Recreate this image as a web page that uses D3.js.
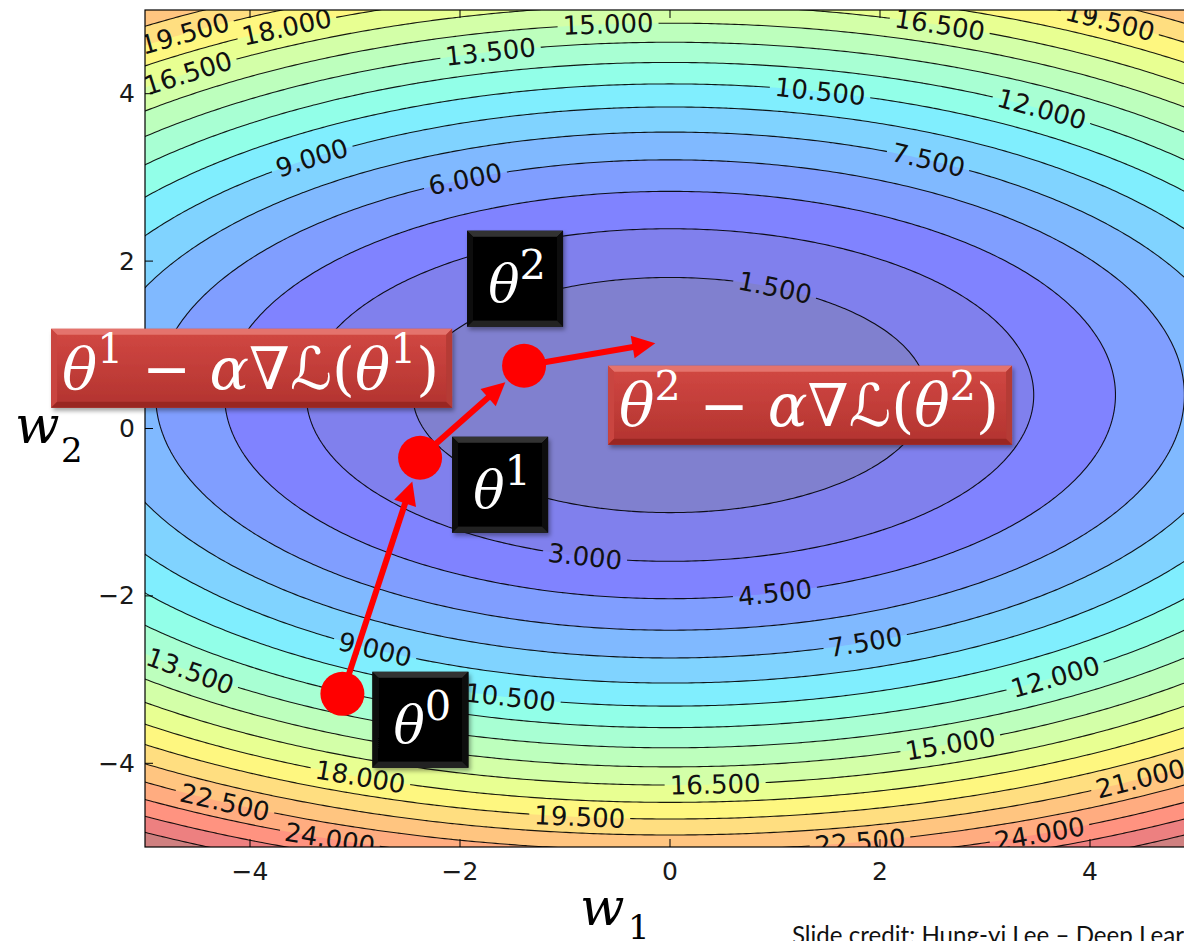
<!DOCTYPE html>
<html><head><meta charset="utf-8">
<script src="https://cdn.jsdelivr.net/npm/d3@7"></script>
<style>body{margin:0;background:#fff;overflow:hidden} svg{display:block}</style>
</head><body>
<svg id="chart" width="1184" height="941"></svg>
<script>
// ================= DATA =================
const xTicks = [-4, -2, 0, 2, 4];
const xTickLabels = ["\u22124", "\u22122", "0", "2", "4"];
const yTicks = [-4, -2, 0, 2, 4];
const yTickLabels = ["\u22124", "\u22122", "0", "2", "4"];
// loss surface  L(w1,w2) = lossA*w1^2 + lossB*(w2 - lossC)^2 
const lossA = 0.25, lossB = 0.76, lossC = 0.4;
// filled-contour levels and contour-line levels
const fillLevels = [0, 1.5, 3, 4.5, 6, 7.5, 9, 10.5, 12, 13.5, 15, 16.5, 18, 19.5, 21, 22.5, 24, 25.5, 27, 28.5];
const lineLevels = [1.5, 3, 4.5, 6, 7.5, 9, 10.5, 12, 13.5, 15, 16.5, 18, 19.5, 21, 22.5, 24, 25.5, 27];
// contour labels: level, w1 position, branch (+1 upper half, -1 lower half)
const labelLevels = [19.5, 18, 16.5, 13.5, 15, 16.5, 19.5, 10.5, 12, 7.5, 9, 6, 1.5,
                     3, 4.5, 7.5, 9, 10.5, 13.5, 12, 15, 16.5, 18, 19.5, 21, 22.5, 24, 22.5, 24];
const labelW1 =     [-4.62, -3.65, -4.59, -1.71, -0.59, 2.57, 4.19, 1.43, 3.54, 2.46, -3.41, -1.95, 1.0,
                     -0.81, 1.0, 1.86, -2.81, -1.52, -4.57, 3.67, 2.67, 0.43, -2.95, -0.86, 4.48, -4.24, -3.24, 1.81, 3.52];
const labelSide =   [1, 1, 1, 1, 1, 1, 1, 1, 1, 1, 1, 1, 1,
                     -1, -1, -1, -1, -1, -1, -1, -1, -1, -1, -1, -1, -1, -1, -1, -1];
// gradient-descent iterates theta^0, theta^1, theta^2 and the next step
const pathW1 = [-3.12, -2.38, -1.39, -0.14];
const pathW2 = [-3.17, -0.35, 0.75, 1.02];
const thetaNames = ["0", "1", "2"];
const stepIndex = ["1", "2"];
// jet colormap stops
const jetStops = [0, 0.35, 0.66, 0.89, 1], jetR = [0, 0, 1, 1, 0.5];
const jetGStops = [0, 0.125, 0.375, 0.64, 0.91, 1], jetG = [0, 0, 1, 1, 0, 0];
const jetBStops = [0, 0.11, 0.34, 0.65, 1], jetB = [0.5, 1, 1, 0, 0];
const creditText = "Slide credit: Hung-yi Lee \u2013 Deep Learning";

// ================= LAYOUT =================
const W = 1184, H = 941;
const svg = d3.select('#chart');
const x = d3.scaleLinear().domain([-5, 5]).range([145, 1195]);
const y = d3.scaleLinear().domain([-5, 5]).range([847, 10]);
const kx = (x(1) - x(0)), ky = (y(0) - y(1));
const loss = (u, v) => lossA * u * u + lossB * (v - lossC) * (v - lossC);

const defs = svg.append('defs');
defs.append('clipPath').attr('id', 'plotClip').append('rect')
  .attr('x', x(-5)).attr('y', y(5)).attr('width', x(5) - x(-5)).attr('height', y(-5) - y(5));
const shadow = defs.append('filter').attr('id', 'shadow').attr('x', '-10%').attr('y', '-10%').attr('width', '130%').attr('height', '140%');
shadow.append('feDropShadow').attr('dx', 2).attr('dy', 3).attr('stdDeviation', 2).attr('flood-color', '#000').attr('flood-opacity', 0.35);

// colormap (jet, alpha 0.5 over white)
const rS = d3.scaleLinear().domain(jetStops).range(jetR).clamp(true);
const gS = d3.scaleLinear().domain(jetGStops).range(jetG).clamp(true);
const bS = d3.scaleLinear().domain(jetBStops).range(jetB).clamp(true);
const norm = d3.scaleLinear().domain([fillLevels[0], fillLevels[fillLevels.length - 1]]).range([0, 1]);
function bandColor(t) {
  const a = 0.5;
  return d3.rgb(255 * (1 - a + a * rS(t)), 255 * (1 - a + a * gS(t)), 255 * (1 - a + a * bS(t))).formatHex();
}

// grid sampled at cell centres, extended past the frame so the clip hides grid borders
const n = 300, lo = -5.6, hi = 5.6, step = (hi - lo) / n;
const values = new Float64Array(n * n);
for (let j = 0; j < n; j++) for (let i = 0; i < n; i++)
  values[j * n + i] = loss(lo + (i + 0.5) * step, lo + (j + 0.5) * step);
const proj = d3.geoTransform({ point(px, py) { this.stream.point(x(lo + px * step), y(lo + py * step)); } });
const gpath = d3.geoPath(proj);
const contourGen = d3.contours().size([n, n]);

const plot = svg.append('g').attr('clip-path', 'url(#plotClip)');
const fillG = plot.append('g');
for (let k = 0; k < fillLevels.length - 1; k++) {
  const mid = (fillLevels[k] + fillLevels[k + 1]) / 2;
  fillG.append('path').attr('d', gpath(contourGen.contour(values, fillLevels[k])))
    .attr('fill', bandColor(norm(mid))).attr('stroke', 'none');
}

// label mask
const mask = defs.append('mask').attr('id', 'lblMask').attr('maskUnits', 'userSpaceOnUse')
  .attr('x', 0).attr('y', 0).attr('width', W).attr('height', H);
mask.append('rect').attr('width', W).attr('height', H).attr('fill', '#fff');

const lineG = plot.append('g').attr('mask', 'url(#lblMask)');
lineLevels.forEach(lv => {
  lineG.append('path').attr('d', gpath(contourGen.contour(values, lv)))
    .attr('fill', 'none').attr('stroke', '#000').attr('stroke-width', 1.1).attr('stroke-opacity', 0.9);
});

const labelG = plot.append('g');
labelLevels.forEach((lv, i) => {
  const u = labelW1[i];
  const v = lossC + labelSide[i] * Math.sqrt(Math.max(0, (lv - lossA * u * u) / lossB));
  const gx = 2 * lossA * u, gy = 2 * lossB * (v - lossC);
  let ang = Math.atan2(-gx * ky, -gy * kx) * 180 / Math.PI;
  if (ang > 90) ang -= 180;
  if (ang < -90) ang += 180;
  const px = x(u), py = y(v);
  const t = labelG.append('text').attr('transform', `translate(${px},${py}) rotate(${ang})`)
    .attr('text-anchor', 'middle').attr('dominant-baseline', 'central')
    .attr('font-family', 'DejaVu Sans').attr('font-size', 26).attr('fill', '#111')
    .text(lv.toFixed(3));
  const len = t.node().getComputedTextLength();
  mask.append('rect').attr('x', -len / 2 - 5).attr('y', -11).attr('width', len + 10).attr('height', 22)
    .attr('transform', `translate(${px},${py}) rotate(${ang})`).attr('fill', '#000');
});

// frame and ticks
const frame = svg.append('g');
frame.append('rect').attr('x', x(-5)).attr('y', y(5)).attr('width', x(5) - x(-5)).attr('height', y(-5) - y(5))
  .attr('fill', 'none').attr('stroke', '#000').attr('stroke-width', 1.2);
xTicks.forEach((t, i) => {
  frame.append('line').attr('x1', x(t)).attr('x2', x(t)).attr('y1', y(-5)).attr('y2', y(-5) - 8).attr('stroke', '#000');
  frame.append('line').attr('x1', x(t)).attr('x2', x(t)).attr('y1', y(5)).attr('y2', y(5) + 8).attr('stroke', '#000');
  frame.append('text').attr('x', x(t)).attr('y', y(-5) + 24).attr('text-anchor', 'middle')
    .attr('dominant-baseline', 'central').attr('font-family', 'DejaVu Sans').attr('font-size', 25)
    .attr('fill', '#1a1a1a').text(xTickLabels[i]);
});
yTicks.forEach((t, i) => {
  frame.append('line').attr('x1', x(-5)).attr('x2', x(-5) + 8).attr('y1', y(t)).attr('y2', y(t)).attr('stroke', '#000');
  frame.append('line').attr('x1', x(5)).attr('x2', x(5) - 8).attr('y1', y(t)).attr('y2', y(t)).attr('stroke', '#000');
  frame.append('text').attr('x', x(-5) - 10).attr('y', y(t)).attr('text-anchor', 'end')
    .attr('dominant-baseline', 'central').attr('font-family', 'DejaVu Sans').attr('font-size', 25)
    .attr('fill', '#1a1a1a').text(yTickLabels[i]);
});

// axis labels
const serif = "'DejaVu Serif', 'DejaVu Sans', serif";
function axisLabel(wx, wy, sub, sx, sy) {
  const t = svg.append('text').attr('font-family', serif).attr('fill', '#000');
  t.append('tspan').attr('x', wx).attr('y', wy).attr('font-style', 'italic').attr('font-size', 52).text('w');
  t.append('tspan').attr('x', sx).attr('y', sy).attr('font-size', 34).text(sub);
}
axisLabel(580, 925, '1', 628, 939);
axisLabel(15, 443, '2', 61, 462);

// gradient descent path
const pts = pathW1.map((u, i) => [x(u), y(pathW2[i])]);
const R = 22;
const arrowG = svg.append('g');
for (let i = 0; i < pts.length - 1; i++) {
  const [x0, y0] = pts[i], [x1, y1] = pts[i + 1];
  const dx = x1 - x0, dy = y1 - y0, L = Math.hypot(dx, dy);
  const ux = dx / L, uy = dy / L;
  const endGap = (i + 1 < pts.length - 1) ? R + 3 : 0;
  const tipX = x1 - ux * endGap, tipY = y1 - uy * endGap;
  const hl = 23, hw = 11.5;
  const bx = tipX - ux * hl, by = tipY - uy * hl;
  arrowG.append('line').attr('x1', x0).attr('y1', y0).attr('x2', bx + ux * 2).attr('y2', by + uy * 2)
    .attr('stroke', '#ff0000').attr('stroke-width', 6);
  arrowG.append('path').attr('d', `M${tipX},${tipY}L${bx - uy * hw},${by + ux * hw}L${bx + uy * hw},${by - ux * hw}Z`)
    .attr('fill', '#ff0000');
}
pts.slice(0, 3).forEach(p => {
  arrowG.append('circle').attr('cx', p[0]).attr('cy', p[1]).attr('r', R).attr('fill', '#ff0000');
});

// bevelled boxes
function bevelBox(g, x0, y0, w, h, c) {
  const b = c.bevel;
  const grad = 'g' + Math.round(x0) + '_' + Math.round(y0);
  const lg = defs.append('linearGradient').attr('id', grad).attr('x1', 0).attr('y1', 0).attr('x2', 0).attr('y2', 1);
  lg.append('stop').attr('offset', '0%').attr('stop-color', c.top);
  lg.append('stop').attr('offset', '100%').attr('stop-color', c.bottom);
  const bg = g.append('g').attr('filter', 'url(#shadow)');
  bg.append('rect').attr('x', x0).attr('y', y0).attr('width', w).attr('height', h).attr('fill', `url(#${grad})`);
  bg.append('path').attr('d', `M${x0},${y0}H${x0 + w}L${x0 + w - b},${y0 + b}H${x0 + b}Z`).attr('fill', c.bevTop);
  bg.append('path').attr('d', `M${x0},${y0}L${x0 + b},${y0 + b}V${y0 + h - b}L${x0},${y0 + h}Z`).attr('fill', c.bevSide);
  bg.append('path').attr('d', `M${x0 + w},${y0}L${x0 + w - b},${y0 + b}V${y0 + h - b}L${x0 + w},${y0 + h}Z`).attr('fill', c.bevSide2);
  bg.append('path').attr('d', `M${x0},${y0 + h}L${x0 + b},${y0 + h - b}H${x0 + w - b}L${x0 + w},${y0 + h}Z`).attr('fill', c.bevBottom);
}
const blackStyle = { bevel: 6, top: '#050505', bottom: '#000', bevTop: '#333', bevSide: '#111', bevSide2: '#0d0d0d', bevBottom: '#222' };
const redStyle = { bevel: 6, top: '#d24843', bottom: '#b2332f', bevTop: '#e4736d', bevSide: '#c9453f', bevSide2: '#b53a35', bevBottom: '#992824' };

function mathText(g, segs, F, sx, baseY, anchorMid, supScale) {
  const t = g.append('text').attr('font-family', serif).attr('fill', '#fff').attr('font-size', F)
    .attr('x', sx).attr('y', baseY);
  const raise = 0.44 * F;
  let up = false;
  segs.forEach(s => {
    const ts = t.append('tspan').text(s.t);
    if (s.i) ts.attr('font-style', 'italic');
    if (s.sup) { ts.attr('font-size', supScale * F).attr('dy', -raise); up = true; }
    else if (up) { ts.attr('dy', raise); up = false; }
  });
  if (anchorMid) t.attr('text-anchor', 'middle');
  return t;
}

const annG = svg.append('g');
// theta boxes (center offsets from the iterate, in px)
const thetaBoxOffsets = [[78, 26], [80, 27], [-9, -87]];
const tb = 96;
thetaNames.forEach((nm, i) => {
  const cx = pts[i][0] + thetaBoxOffsets[i][0], cy = pts[i][1] + thetaBoxOffsets[i][1];
  bevelBox(annG, cx - tb / 2, cy - tb / 2, tb, tb, blackStyle);
  mathText(annG, [{ t: '\u03B8', i: true }, { t: nm, sup: true }], 52, cx + 2, cy + 23, true, 0.8);
});
// update-rule boxes
const stepBoxes = [{ anchor: 1, dx: -168.5, dy: -89.5, w: 401, h: 79 }, { anchor: 2, dx: 286, dy: 39.5, w: 404, h: 79 }];
stepBoxes.forEach((b, k) => {
  const cx = pts[b.anchor][0] + b.dx, cy = pts[b.anchor][1] + b.dy;
  const x0 = cx - b.w / 2, y0 = cy - b.h / 2;
  bevelBox(annG, x0, y0, b.w, b.h, redStyle);
  const idx = stepIndex[k];
  const segs = [{ t: '\u03B8', i: true }, { t: idx, sup: true }, { t: ' \u2212 ' }, { t: '\u03B1', i: true },
                { t: '\u2207' }, { t: '\u2112' }, { t: '(' }, { t: '\u03B8', i: true }, { t: idx, sup: true }, { t: ')' }];
  let F = 50;
  let t = mathText(annG, segs, F, x0 + 11, y0 + 60, false, 0.7);
  const wMeas = t.node().getBBox().width;
  t.remove();
  F = F * (b.w - 24) / wMeas;
  mathText(annG, segs, F, x0 + 11, y0 + 60, false, 0.7);
});

// credit
const cr = svg.append('text').attr('x', 792).attr('y', 944).attr('font-family', 'Lato, "Open Sans", sans-serif')
  .attr('font-size', 20).attr('fill', '#111').text("Slide credit: Hung-yi Lee \u2013 Deep Lear");
const crLen = cr.node().getComputedTextLength();
cr.attr('font-size', 20 * 392 / crLen).text(creditText);
</script>
</body></html>
